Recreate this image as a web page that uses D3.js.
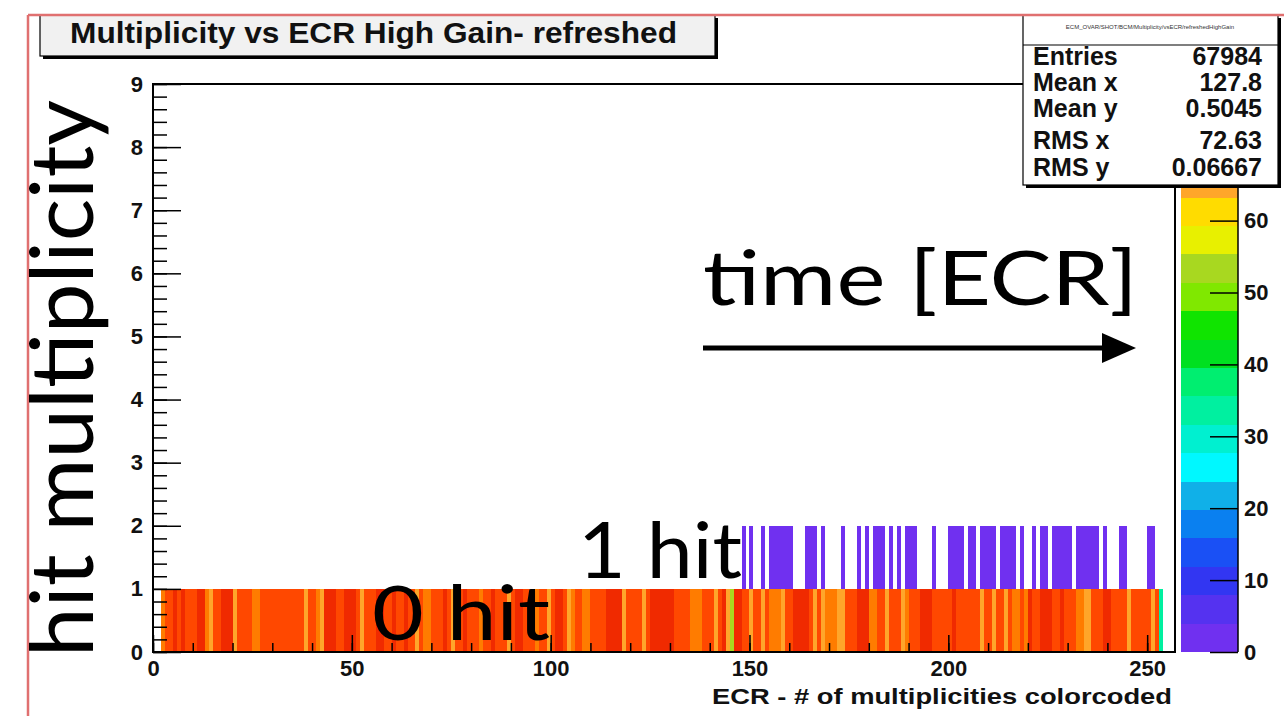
<!DOCTYPE html>
<html>
<head>
<meta charset="utf-8">
<script src="https://d3js.org/d3.v7.min.js"></script>
<style>
  body { margin: 0; background: #fff; }
  svg { display: block; }
  .axis text { font-family: "Liberation Sans", Arial, sans-serif; font-weight: bold; font-size: 22px; fill: #111; }
  .axis line { stroke: #000; stroke-width: 1.5px; }
  .axis path { display: none; }
  .slide { font-family: Lato, "Open Sans", sans-serif; fill: #000; }
</style>
</head>
<body>
<svg id="chart" width="1284" height="716"></svg>
<script>
// histogram content
var ecrStart = 2;
// counts in the "0 hit" row (y bin 0..1), one per ECR starting at ecrStart
var zeroHitCounts = [
    69,73,73,77,73,77,73,73,73,77,
    77,69,65,73,73,77,77,77,65,73,
    73,73,73,69,69,73,73,73,73,73,
    73,73,73,73,73,73,65,73,73,69,
    65,77,77,77,73,73,77,77,77,73,
    65,73,73,73,77,77,73,73,77,73,
    73,77,73,73,65,73,69,69,73,73,
    73,77,73,65,73,73,77,73,73,73,
    69,73,73,77,73,73,73,65,73,77,
    77,73,73,73,69,73,73,65,73,77,
    77,73,65,69,73,73,69,69,73,73,
    73,73,77,77,77,77,65,73,73,73,
    73,65,73,77,77,77,77,77,77,73,
    73,73,73,69,69,69,73,73,73,65,
    73,77,65,53,77,77,73,73,65,73,
    73,65,73,69,69,69,65,73,73,77,
    77,77,77,73,65,73,65,69,69,69,
    65,65,73,73,73,77,77,77,69,69,
    73,73,65,73,73,73,65,69,73,73,
    73,77,77,77,73,73,73,73,73,77,
    73,73,73,73,73,73,65,73,73,65,
    73,73,65,73,69,69,73,69,77,73,
    73,77,77,77,73,73,77,73,73,73,
    69,69,65,65,73,73,73,77,77,73,
    73,73,73,65,73,73,73,73,73,65,
    73,33
];
// ECRs that have an entry in the "1 hit" row (y bin 1..2)
var oneHitEcr = [148,150,153,155,156,157,158,159,160,164,165,166,168,173,177,179,181,182,183,185,
    187,189,190,191,196,200,201,202,203,205,206,208,209,210,211,213,214,215,216,218,
    221,223,224,226,227,228,229,230,232,233,234,235,236,237,239,243,244,250,251];
var oneHitCounts = [2,1,1,2,3,2,1,2,2,1,2,1,1,1,2,1,2,3,2,1,
    1,2,2,1,1,2,3,2,1,2,1,2,2,3,1,2,1,2,2,1,
    1,2,1,2,3,2,2,1,2,2,3,2,1,2,1,2,1,1,2];

var xTicks = [0, 50, 100, 150, 200, 250];
var yTicks = [0, 1, 2, 3, 4, 5, 6, 7, 8, 9];
var zTicks = [0, 10, 20, 30, 40, 50, 60];
var zMax = 79;
// ROOT style palette, 20 contour levels, bottom to top
var paletteColors = ["#7030f0", "#5532f0", "#3236f2", "#1a50f5", "#0a80f0", "#10b0e8", "#00f8ff",
    "#00f0d0", "#00f0a0", "#00ee70", "#00e020", "#10e400", "#80e800", "#a8d820", "#e8f000",
    "#ffdc00", "#ffa62a", "#ff7c00", "#ff4800", "#f02a00"];

var statsLabels = ["Entries", "Mean x", "Mean y", "RMS x", "RMS y"];
var statsValues = ["67984", "127.8", "0.5045", "72.63", "0.06667"];

var svg = d3.select('#chart');
var width = 1284, height = 716;
svg.append('rect').attr('width', width).attr('height', height).attr('fill', '#fff');

/* scales */
var x = d3.scaleLinear().domain([0, 257]).range([153, 1175]);
var y = d3.scaleLinear().domain([0, 9]).range([652, 84]);
var z = d3.scaleLinear().domain([0, zMax]).range([652, 84]);
var levels = d3.range(1, paletteColors.length).map(function(i) { return zMax * i / paletteColors.length; });
var color = d3.scaleThreshold().domain(levels).range(paletteColors);

/* cells */
var cells = [];
zeroHitCounts.forEach(function(c, i) {
    cells.push({ ecr: ecrStart + i, row: 0, count: c });
});
oneHitEcr.forEach(function(e, i) {
    cells.push({ ecr: e, row: 1, count: oneHitCounts[i] });
});

svg.append('g').selectAll('rect')
    .data(cells)
    .enter().append('rect')
    .attr('x', function(d) { return x(d.ecr); })
    .attr('width', function(d) { return x(d.ecr + 1) - x(d.ecr); })
    .attr('y', function(d) { return y(d.row + 1); })
    .attr('height', function(d) { return y(d.row) - y(d.row + 1); })
    .attr('fill', function(d) { return color(d.count); })
    .attr('shape-rendering', 'crispEdges');

/* axes - ticks point inside the frame like ROOT */
svg.append('g').attr('class', 'axis')
    .attr('transform', 'translate(0,652)')
    .call(d3.axisBottom(x).tickValues(d3.range(0, 251, 10)).tickSize(-9).tickFormat(''));
svg.append('g').attr('class', 'axis')
    .attr('transform', 'translate(0,652)')
    .call(d3.axisBottom(x).tickValues(xTicks).tickSize(-17).tickPadding(8));

svg.append('g').attr('class', 'axis')
    .attr('transform', 'translate(153,0)')
    .call(d3.axisLeft(y).tickValues(d3.range(0, 9.01, 0.2)).tickSize(-14).tickFormat(''));
svg.append('g').attr('class', 'axis')
    .attr('transform', 'translate(153,0)')
    .call(d3.axisLeft(y).tickValues(yTicks).tickSize(-28).tickPadding(10));

// frame
svg.append('rect')
    .attr('x', x(0)).attr('y', y(9))
    .attr('width', x(257) - x(0)).attr('height', y(0) - y(9))
    .attr('fill', 'none').attr('stroke', '#000').attr('stroke-width', 2);

svg.append('text')
    .attr('x', 712).attr('y', 704)
    .attr('textLength', 460).attr('lengthAdjust', 'spacingAndGlyphs')
    .style('font-family', '"Liberation Sans", Arial, sans-serif')
    .style('font-weight', 'bold').style('font-size', '22px').attr('fill', '#111')
    .text('ECR - # of multiplicities colorcoded');

/* palette */
var pal = svg.append('g');
pal.selectAll('rect')
    .data(paletteColors)
    .enter().append('rect')
    .attr('x', 1181).attr('width', 57)
    .attr('y', function(d, i) { return z(zMax * (i + 1) / paletteColors.length); })
    .attr('height', function(d, i) { return z(zMax * i / paletteColors.length) - z(zMax * (i + 1) / paletteColors.length); })
    .attr('fill', function(d) { return d; })
    .attr('shape-rendering', 'crispEdges');
svg.append('g').attr('class', 'axis')
    .attr('transform', 'translate(1238,0)')
    .call(d3.axisRight(z).tickValues(zTicks).tickSize(-28).tickPadding(6));
svg.append('line').attr('x1', 1238).attr('x2', 1238).attr('y1', 84).attr('y2', 652)
    .attr('stroke', '#000').attr('stroke-width', 1.5);

/* title box */
svg.append('rect').attr('x', 43).attr('y', 18).attr('width', 675).attr('height', 41).attr('fill', '#000');
svg.append('rect').attr('x', 40).attr('y', 15).attr('width', 675).attr('height', 41)
    .attr('fill', '#f1f1f1').attr('stroke', '#000').attr('stroke-width', 1.2);
svg.append('text')
    .attr('x', 70).attr('y', 43)
    .attr('textLength', 607).attr('lengthAdjust', 'spacingAndGlyphs')
    .style('font-family', '"Liberation Sans", Arial, sans-serif')
    .style('font-weight', 'bold').style('font-size', '29px').attr('fill', '#111')
    .text('Multiplicity vs ECR High Gain- refreshed');

/* stats box */
svg.append('rect').attr('x', 1026).attr('y', 18).attr('width', 255).attr('height', 170).attr('fill', '#000');
svg.append('rect').attr('x', 1023).attr('y', 15).attr('width', 255).attr('height', 170)
    .attr('fill', '#fff').attr('stroke', '#000').attr('stroke-width', 1.2);
svg.append('line').attr('x1', 1023).attr('x2', 1278).attr('y1', 45).attr('y2', 45)
    .attr('stroke', '#000').attr('stroke-width', 1.2);
svg.append('text')
    .attr('x', 1150).attr('y', 29).attr('text-anchor', 'middle')
    .style('font-family', '"Liberation Sans", Arial, sans-serif').style('font-size', '6px')
    .attr('fill', '#333')
    .text('ECM_OVAR/SHOT/BCM/Multiplicity/vsECR/refreshedHighGain');

var statsY = [65, 91, 117, 149, 176];
var stats = svg.append('g')
    .style('font-family', '"Liberation Sans", Arial, sans-serif')
    .style('font-weight', 'bold').style('font-size', '25px');
stats.selectAll('text.lab')
    .data(statsLabels)
    .enter().append('text').attr('class', 'lab')
    .attr('x', 1033).attr('y', function(d, i) { return statsY[i]; })
    .attr('fill', '#111')
    .text(function(d) { return d; });
stats.selectAll('text.val')
    .data(statsValues)
    .enter().append('text').attr('class', 'val')
    .attr('x', 1262).attr('y', function(d, i) { return statsY[i]; })
    .attr('text-anchor', 'end').attr('fill', '#111')
    .text(function(d) { return d; });

/* canvas border (red) */
svg.append('line').attr('x1', 28).attr('x2', width).attr('y1', 15).attr('y2', 15)
    .attr('stroke', '#e07070').attr('stroke-width', 2.5);
svg.append('line').attr('x1', 28).attr('x2', 28).attr('y1', 15).attr('y2', height)
    .attr('stroke', '#e07070').attr('stroke-width', 2.5);

/* slide annotations */
svg.append('text').attr('class', 'slide')
    .attr('transform', 'translate(93,657) rotate(-90)')
    .attr('textLength', 557).attr('lengthAdjust', 'spacingAndGlyphs')
    .style('font-size', '88px')
    .text('hit multiplicity');
svg.append('text').attr('class', 'slide')
    .attr('x', 703).attr('y', 305)
    .attr('textLength', 435).attr('lengthAdjust', 'spacingAndGlyphs')
    .style('font-size', '76px')
    .text('time [ECR]');
svg.append('text').attr('class', 'slide')
    .attr('x', 578).attr('y', 578)
    .attr('textLength', 164).attr('lengthAdjust', 'spacingAndGlyphs')
    .style('font-size', '78px')
    .text('1 hit');
svg.append('text').attr('class', 'slide')
    .attr('x', 372).attr('y', 640)
    .attr('textLength', 178).attr('lengthAdjust', 'spacingAndGlyphs')
    .style('font-size', '76px')
    .text('0 hit');

// arrow
svg.append('line').attr('x1', 703).attr('x2', 1110).attr('y1', 348).attr('y2', 348)
    .attr('stroke', '#000').attr('stroke-width', 5);
svg.append('path').attr('d', 'M1102,333L1136,348L1102,363Z').attr('fill', '#000');
</script>
</body>
</html>
